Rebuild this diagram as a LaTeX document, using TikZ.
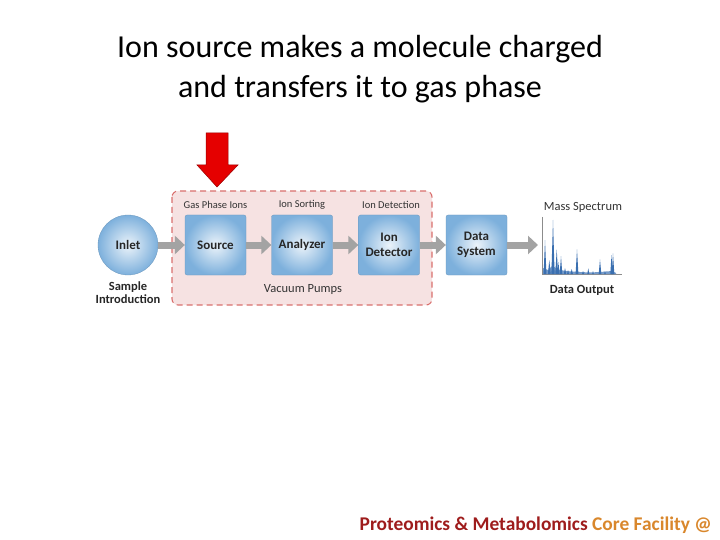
\documentclass[tikz,border=0pt]{standalone}
\usepackage{fontspec}
\setmainfont{Carlito}
\usetikzlibrary{arrows.meta,shapes.geometric}
\definecolor{boxblue}{HTML}{7DB0DC}
\definecolor{pinkfill}{HTML}{F6E2E2}
\definecolor{pinkline}{HTML}{D9706E}
\definecolor{arrgray}{HTML}{A3A3A3}
\definecolor{specblue}{HTML}{3A6FB0}
\definecolor{footred}{HTML}{9E1C1C}
\definecolor{footorange}{HTML}{D9872C}
\tikzset{
  unit/.style={rectangle, rounded corners=2pt, minimum width=61pt, minimum height=60pt,
    inner color=boxblue!15, outer color=boxblue, draw=boxblue!85!black, line width=0.3pt,
    font=\fontsize{13}{14.5}\selectfont\bfseries, align=center, text=black!85},
  lab/.style={font=\fontsize{10.5}{11}\selectfont, text=black!80, inner sep=0pt},
  biglab/.style={font=\fontsize{12.5}{13}\selectfont, text=black!80, inner sep=0pt},
  blab/.style={font=\fontsize{12.5}{13}\selectfont\bfseries, text=black!85, align=center, inner sep=0pt},
  garrow/.style={draw=arrgray, line width=7pt, -{Triangle[length=10pt,width=18pt]}},
}
\begin{document}
\begin{tikzpicture}[x=1pt,y=-1pt]
\useasboundingbox (0,0) rectangle (720,540);
% title
\node[font=\fontsize{32}{40}\selectfont, align=center] (title) at (360,69)
  {Ion source makes a molecule charged\\and transfers it to gas phase};
% dashed vacuum box
\draw[fill=pinkfill, draw=pinkline, line width=1.1pt, dash pattern=on 6pt off 4pt, rounded corners=6pt]
  (172,191) rectangle (432,305);
\coordinate (vac) at (302,248);
% red arrow
\fill[red!90!black, draw=red!60!black, line width=0.5pt]
  (206,133) -- (228,133) -- (228,165) -- (238,165) -- (217,187) -- (197,165) -- (206,165) -- cycle;
% inlet
\node[circle, minimum size=60pt, inner color=boxblue!15, outer color=boxblue, draw=boxblue!85!black,
  line width=0.3pt, font=\fontsize{13}{14.5}\selectfont\bfseries, text=black!85] (inlet) at (128,245) {Inlet};
\node[unit] (source) at (215.5,245) {Source};
\node[unit] (analyzer) at (302,245) {Analyzer};
\node[unit] (detector) at (389,245) {Ion\\Detector};
\node[unit] (data) at (476.5,245) {Data\\System};
% labels
\node[lab] (l1) at (215.5,205) {Gas Phase Ions};
\node[lab] (l2) at (302,205) {Ion Sorting};
\node[lab] (l3) at (391,205) {Ion Detection};
\node[biglab] (l4) at (303,289) {Vacuum Pumps};
\node[blab] (l5) at (128,293) {Sample\\Introduction};
\node[biglab] (l6) at (583,207) {Mass Spectrum};
\node[blab] (l7) at (582,290) {Data Output};
% arrows
\coordinate (spec) at (538,245);
\draw[garrow] (inlet.east) -- (source.west);
\draw[garrow] (source.east) -- (analyzer.west);
\draw[garrow] (analyzer.east) -- (detector.west);
\draw[garrow] (detector.east) -- (data.west);
\draw[garrow] (data.east) -- (spec);
% spectrum
\draw[black!45, line width=0.5pt] (542.5,217) -- (542.5,274.5) -- (622,274.5);
\fill[specblue!70] (543,274) -- (543,268) -- (548,270) -- (552,266) -- (556,268) -- (560,270) -- (566,271) -- (572,271.5) -- (580,272) -- (590,272.5) -- (600,272) -- (612,271) -- (616,273) -- (616,274) -- cycle;
\foreach \px/\py/\w in {545/240/1.4, 549.3/260/1.4, 553/220/1.6, 556.7/249.3/1.4, 558.5/262/1.0, 561/256/1.3, 565/268/1.2, 568/270/1.0, 571.7/269/1.2, 577/249.3/1.4, 583/271/1.0, 588.3/268.3/1.0, 593/271/0.8, 600/259.3/1.3, 605/271/0.8, 611.5/255/1.2, 613/253.3/1.3}
  \fill[specblue] (\px-\w,274) -- (\px,\py) -- (\px+\w,274) -- cycle;
% footer
\node[anchor=east, font=\fontsize{19.4}{22}\selectfont\bfseries, inner sep=0pt] (foot) at (712,525)
  {\textcolor{footred}{Proteomics \& Metabolomics} \textcolor{footorange}{Core Facility @}};
\end{tikzpicture}
\end{document}
